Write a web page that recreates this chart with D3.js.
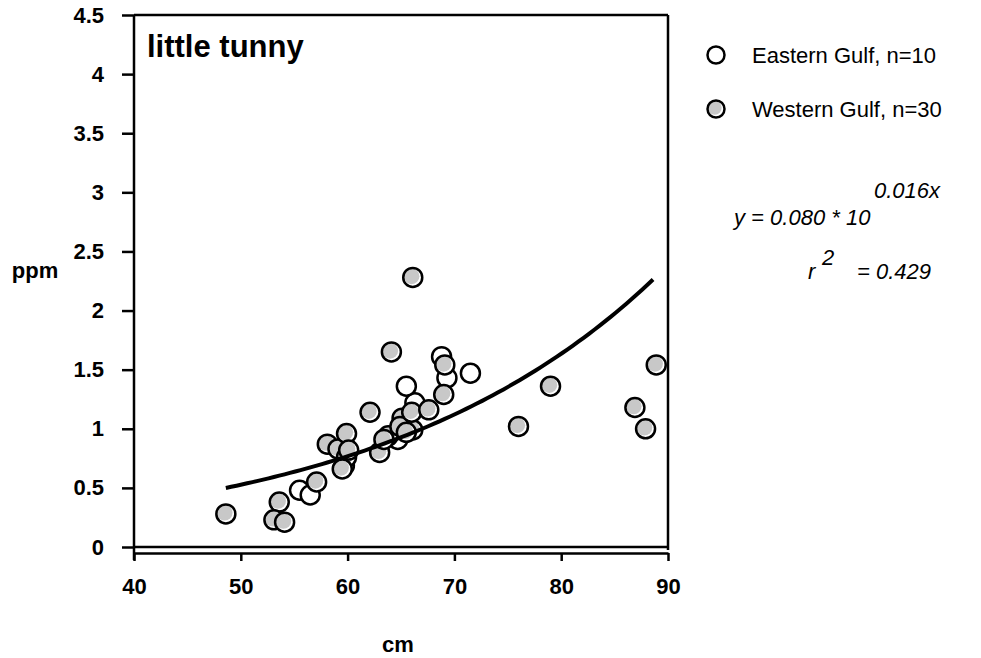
<!DOCTYPE html>
<html>
<head>
<meta charset="utf-8">
<script src="https://cdn.jsdelivr.net/npm/d3@7/dist/d3.min.js"></script>
<style>
  html, body { margin: 0; padding: 0; background: #fff; }
  svg { display: block; font-family: "Liberation Sans", Arial, sans-serif; }
</style>
</head>
<body>
<svg id="chart" width="981" height="658"></svg>
<script>
// Mercury (ppm) vs fork length (cm), little tunny
const easternCm  = [55.5, 56.5, 59.8, 59.7, 64.7, 66.3, 65.5, 69.3, 68.8, 71.5];
const easternPpm = [0.48, 0.44, 0.85, 0.69, 0.91, 1.22, 1.36, 1.43, 1.61, 1.47];

const westernCm  = [48.6, 53.6, 53.1, 54.1, 57.1, 58.1, 59.1, 59.9, 59.9, 59.5,
                    62.1, 63.0, 63.8, 65.1, 64.9, 66.1, 66.0, 67.6, 69.0, 69.1,
                    64.1, 66.1, 76.0, 79.0, 86.9, 87.9, 88.9, 63.4, 65.5, 60.1];
const westernPpm = [0.28, 0.38, 0.23, 0.21, 0.55, 0.87, 0.83, 0.96, 0.76, 0.66,
                    1.14, 0.80, 0.94, 1.09, 1.02, 0.99, 1.14, 1.16, 1.29, 1.54,
                    1.65, 2.28, 1.02, 1.36, 1.18, 1.00, 1.54, 0.91, 0.97, 0.82];

const yTicks = [0, 0.5, 1, 1.5, 2, 2.5, 3, 3.5, 4, 4.5];
const yTickLabels = ["0", "0.5", "1", "1.5", "2", "2.5", "3", "3.5", "4", "4.5"];
const xTicks = [40, 50, 60, 70, 80, 90];
const xTickLabels = ["40", "50", "60", "70", "80", "90"];

const legendLabels = ["Eastern Gulf, n=10", "Western Gulf, n=30"];

// fitted curve y = a * 10^(b x)
const fitA = 0.0797, fitB = 0.0164;
const fitRange = [48.6, 88.6];

const svg = d3.select("#chart");
const x = d3.scaleLinear().domain([40, 90]).range([134, 668]);
const y = d3.scaleLinear().domain([0, 4.5]).range([547, 15]);

const ink = "#000";
const grey = "#c8c8c8";
const FONT = "Liberation Sans, Arial, sans-serif";

// frame (top, right, bottom at y = 0)
const frame = svg.append("g").attr("stroke", ink).attr("stroke-width", 2.5).attr("fill", "none");
frame.append("line").attr("x1", x(40)).attr("x2", x(90)).attr("y1", y(4.5)).attr("y2", y(4.5));
frame.append("line").attr("x1", x(90)).attr("x2", x(90)).attr("y1", y(4.5)).attr("y2", y(0) + 3);
frame.append("line").attr("x1", x(40)).attr("x2", x(90)).attr("y1", y(0)).attr("y2", y(0));

// y axis
const yAxis = svg.append("g")
  .attr("transform", `translate(${x(40)},0)`)
  .call(d3.axisLeft(y).tickValues(yTicks).tickSize(12).tickPadding(18)
        .tickFormat((d, i) => yTickLabels[i]));
yAxis.select(".domain").remove();
yAxis.append("line").attr("x1", 0).attr("x2", 0).attr("y1", y(4.5)).attr("y2", 560)
  .attr("stroke", ink).attr("stroke-width", 2.5);
yAxis.selectAll(".tick line").attr("stroke", ink).attr("stroke-width", 2.5);
yAxis.selectAll(".tick text").attr("fill", ink).attr("font-size", 22).attr("font-weight", "bold")
  .attr("font-family", FONT);

// x axis, offset just below the frame
const xAxis = svg.append("g")
  .attr("transform", `translate(0,${y(0) + 6})`)
  .call(d3.axisBottom(x).tickValues(xTicks).tickSize(8).tickSizeOuter(0).tickPadding(17)
        .tickFormat((d, i) => xTickLabels[i]));
xAxis.select(".domain").attr("stroke", ink).attr("stroke-width", 2.5);
xAxis.selectAll(".tick line").attr("stroke", ink).attr("stroke-width", 2.5);
xAxis.selectAll(".tick text").attr("fill", ink).attr("font-size", 22).attr("font-weight", "bold")
  .attr("font-family", FONT);

// axis titles
svg.append("text").attr("x", 35).attr("y", 278).attr("text-anchor", "middle")
  .attr("font-size", 22).attr("font-weight", "bold").text("ppm");
svg.append("text").attr("x", 398).attr("y", 652).attr("text-anchor", "middle")
  .attr("font-size", 22).attr("font-weight", "bold").text("cm");

// panel title
svg.append("text").attr("x", 147).attr("y", 57)
  .attr("font-size", 31).attr("font-weight", "bold").text("little tunny");

// markers
const R = 9.5;
function marker(g, filled, r) {
  g.append("circle").attr("r", r).attr("fill", "#fff");
  if (filled) {
    g.append("circle").attr("r", r - 1.6).attr("cx", -1.2).attr("cy", -1.2).attr("fill", grey);
  }
  g.append("circle").attr("r", r).attr("fill", "none").attr("stroke", ink).attr("stroke-width", 2.5);
}

const east = easternCm.map((c, i) => ({ c, p: easternPpm[i] }));
const west = westernCm.map((c, i) => ({ c, p: westernPpm[i] }));

svg.append("g").selectAll("g").data(east).join("g")
  .attr("transform", d => `translate(${x(d.c)},${y(d.p)})`)
  .each(function () { marker(d3.select(this), false, R); });

svg.append("g").selectAll("g").data(west).join("g")
  .attr("transform", d => `translate(${x(d.c)},${y(d.p)})`)
  .each(function () { marker(d3.select(this), true, R); });

// regression curve
const curveX = d3.range(fitRange[0], fitRange[1] + 0.01, 0.5);
const line = d3.line().x(d => x(d)).y(d => y(fitA * Math.pow(10, fitB * d)));
svg.append("path").datum(curveX).attr("d", line)
  .attr("fill", "none").attr("stroke", ink).attr("stroke-width", 4).attr("stroke-linejoin", "round");

// legend
const legend = svg.append("g");
legendLabels.forEach((lab, i) => {
  const g = legend.append("g").attr("transform", `translate(716,${55 + i * 54})`);
  marker(g.append("g"), i === 1, 8.5);
  g.append("text").attr("x", 36).attr("y", 8).attr("font-size", 22).text(lab);
});

// equation
const eq = svg.append("g").attr("font-style", "italic").attr("font-size", 22);
eq.append("text").attr("x", 734).attr("y", 225).text("y = 0.080 * 10");
eq.append("text").attr("x", 874).attr("y", 198).text("0.016x");
eq.append("text").attr("x", 808).attr("y", 279).text("r");
eq.append("text").attr("x", 822).attr("y", 265).text("2");
eq.append("text").attr("x", 857).attr("y", 279).text("= 0.429");
</script>
</body>
</html>
